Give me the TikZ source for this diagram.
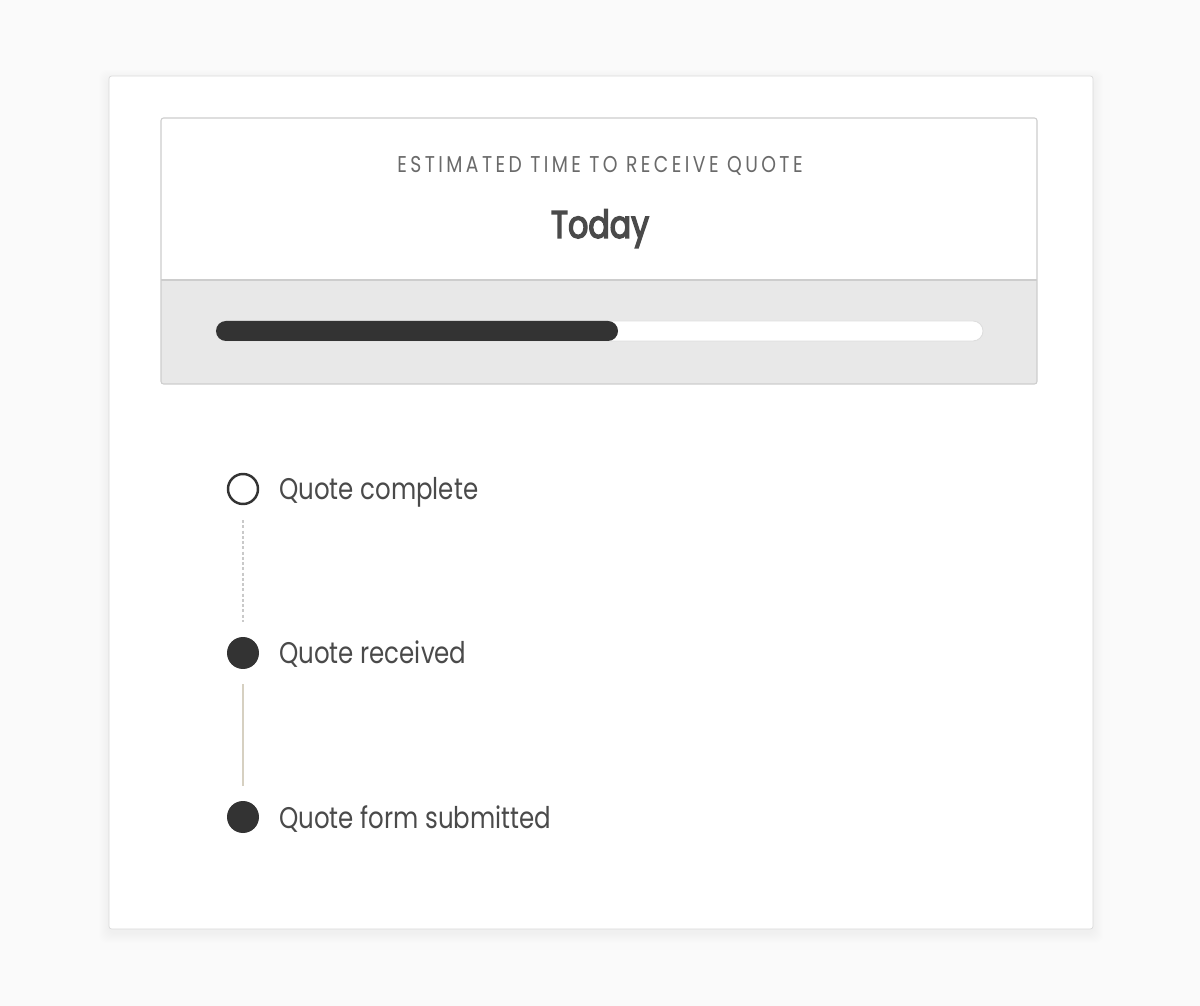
\documentclass[tikz,border=0pt]{standalone}
\usepackage{fontspec}
\setmainfont{Poppins}[FakeStretch=0.82]
\usetikzlibrary{positioning}

\definecolor{ink}{HTML}{333333}
\definecolor{labelgray}{HTML}{4A4A4A}
\definecolor{headgray}{HTML}{6A6A6A}
\definecolor{pagebg}{HTML}{FAFAFA}
\definecolor{cardline}{HTML}{DADADA}
\definecolor{panelline}{HTML}{CDCDCD}
\definecolor{panelgray}{HTML}{E8E8E8}
\definecolor{trackline}{HTML}{DDDDDD}
\definecolor{pending}{HTML}{C9C9C9}
\definecolor{trail}{HTML}{D6D0C1}

\begin{document}
\begin{tikzpicture}[x=0.02cm, y=-0.02cm,
    todo/.style={circle, draw=ink, line width=1.4pt, minimum size=0.6cm, inner sep=0},
    done/.style={circle, fill=ink, minimum size=0.64cm, inner sep=0},
    steplabel/.style={anchor=base west, inner sep=0, text=labelgray, font=\fontsize{17}{20}\selectfont},
    waiting/.style={pending, line width=0.6pt, dash pattern=on 0.06cm off 0.045cm, shorten <=0.3cm, shorten >=0.3cm},
    passed/.style={trail, line width=0.9pt, shorten <=0.3cm, shorten >=0.3cm}]
        \useasboundingbox[fill=pagebg] (0,0) rectangle (1200,1006);
        % card with soft shadow
        \foreach \s in {1,...,10}
            \fill[black, opacity=0.004, rounded corners=4pt] (109-\s,76-\s+4) rectangle (1093+\s,929+\s+4);
        \draw[cardline, fill=white, rounded corners=1.5pt] (109,76) rectangle (1093,929);
        % estimate panel
        \fill[white] (161,118) rectangle (1037,280);
        \fill[panelgray] (161,280) rectangle (1037,384);
        \draw[panelline, line width=0.6pt] (161,280) -- (1037,280);
        \draw[panelline, line width=0.6pt, rounded corners=1.5pt] (161,118) rectangle (1037,384);
        \node[anchor=base, text=headgray, font=\fontsize{13}{15}\selectfont\addfontfeatures{LetterSpace=15}]
              (eta) at (600,173) {ESTIMATED TIME TO RECEIVE QUOTE};
        \node[anchor=base, text=labelgray, font=\fontsize{22}{26}\selectfont\addfontfeatures{FakeBold=3.5}]
              (when) at (600,238) {Today};
        % progress bar
        \draw[trackline, line width=0.5pt, fill=white, rounded corners=0.2cm] (216,321) rectangle (983,341);
        \fill[ink, rounded corners=0.2cm] (216,321) rectangle (618,341);
        % steps
        \node[todo] (complete) at (243,489) {};
        \node[done] (received) at (243,653) {};
        \node[done] (submitted) at (243,817) {};
        \foreach \n/\t in {complete/Quote complete, received/Quote received, submitted/Quote form submitted}
            \node[steplabel] (lbl\n) at ([xshift=0.72cm, yshift=-0.22cm]\n.center) {\t};
        \draw[waiting] (complete) -- (received);
        \draw[passed] (received) -- (submitted);
    \end{tikzpicture}
\end{document}
